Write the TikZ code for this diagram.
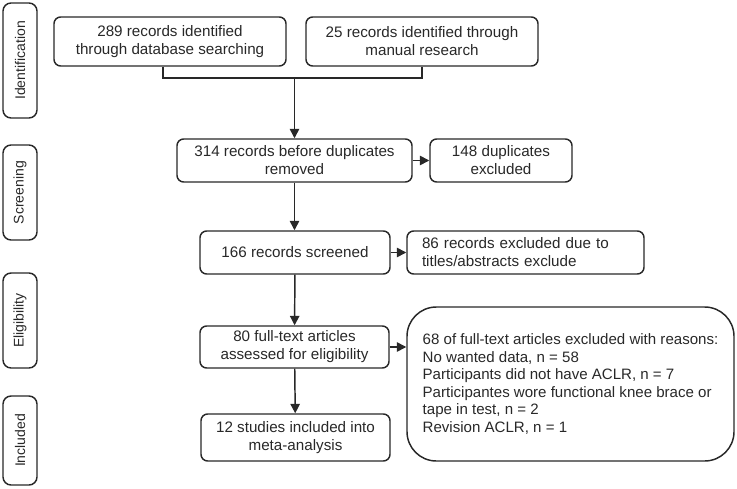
\documentclass[tikz,border=0pt]{standalone}
\usepackage{fontspec}
\setmainfont{Liberation Sans}
\usetikzlibrary{arrows.meta}
\definecolor{boxline}{RGB}{40,40,40}

\begin{document}
\begin{tikzpicture}[x=0.75pt,y=0.75pt,yscale=-1,xscale=1,
  prisma/.style={draw=boxline, line width=1.1pt, rounded corners=5pt, align=center, text=boxline, inner sep=0pt, font=\fontsize{11.4}{13.5}\selectfont},
  phase/.style={draw=boxline, line width=1.1pt, rounded corners=6pt, rotate=90, minimum height=25.5pt, inner sep=0pt, text=boxline, font=\fontsize{10.5}{12}\selectfont},
  flow/.style={draw=boxline, line width=1.1pt, -{Triangle[length=7pt,width=7pt]}}]
%set diagram size to 737 x 488
\useasboundingbox (0,0) rectangle (737,488);

% phase labels on the left
\node [phase, minimum width=86.25pt] (ident) at (20,60.5) {Identification};
\node [phase, minimum width=71.25pt] (screen) at (20,192.5) {Screening};
\node [phase, minimum width=71.25pt] (elig) at (20,320.5) {Eligibility};
\node [phase, minimum width=66.75pt] (incl) at (20,440.5) {Included};

% boxes
\node [prisma, minimum width=174pt, minimum height=36.75pt] (dbsearch) at (170,41.5) {289 records identified\\through database searching};
\node [prisma, minimum width=174pt, minimum height=36.75pt] (manual) at (422,41.5) {25 records identified through\\manual research};
\coordinate (merge) at (294.5,78);
\node [prisma, minimum width=176.25pt, minimum height=32.25pt] (before) at (294.5,160.5) {314 records before duplicates\\removed};
\node [prisma, minimum width=106.5pt, minimum height=32.25pt] (dupl) at (501,160.5) {148 duplicates\\excluded};
\node [prisma, minimum width=142.5pt, minimum height=32.25pt] (screened) at (295,252.5) {166 records screened};
\node [prisma, align=left, text width=155.25pt, inner xsep=11.25pt, minimum height=32.25pt] (titles) at (525.5,252.5) {86 records excluded due to\\titles/abstracts exclude};
\node [prisma, minimum width=141.75pt, minimum height=31.5pt] (fulltext) at (294.5,347) {80 full-text articles\\assessed for eligibility};
\node [prisma, rounded corners=22pt, align=left, minimum width=245.25pt, minimum height=115.5pt, font=\fontsize{11.3}{13.1}\selectfont] (reasons) at (570.5,384) {68 of full-text articles excluded with reasons:\\No wanted data, n = 58\\Participants did not have ACLR, n = 7\\Participantes wore functional knee brace or\\tape in test, n = 2\\Revision ACLR, n = 1};
\node [prisma, minimum width=141.75pt, minimum height=35.25pt] (metaan) at (295.5,437.5) {12 studies included into\\meta-analysis};

% connectors
\draw [draw=boxline, line width=1.1pt] ([xshift=-5.25pt]dbsearch.south) |- (merge) -| (manual.south);
\draw [flow] (merge) -- (before);
\draw [flow] (before) -- (dupl);
\draw [flow] (before.south) -- (before.south |- screened.north);
\draw [flow] (screened) -- (titles);
\draw [flow] (screened) -- (fulltext);
\draw [flow] (fulltext.east) -- (fulltext.east -| reasons.west);
\draw [flow] (fulltext) -- (metaan);

\end{tikzpicture}
\end{document}
